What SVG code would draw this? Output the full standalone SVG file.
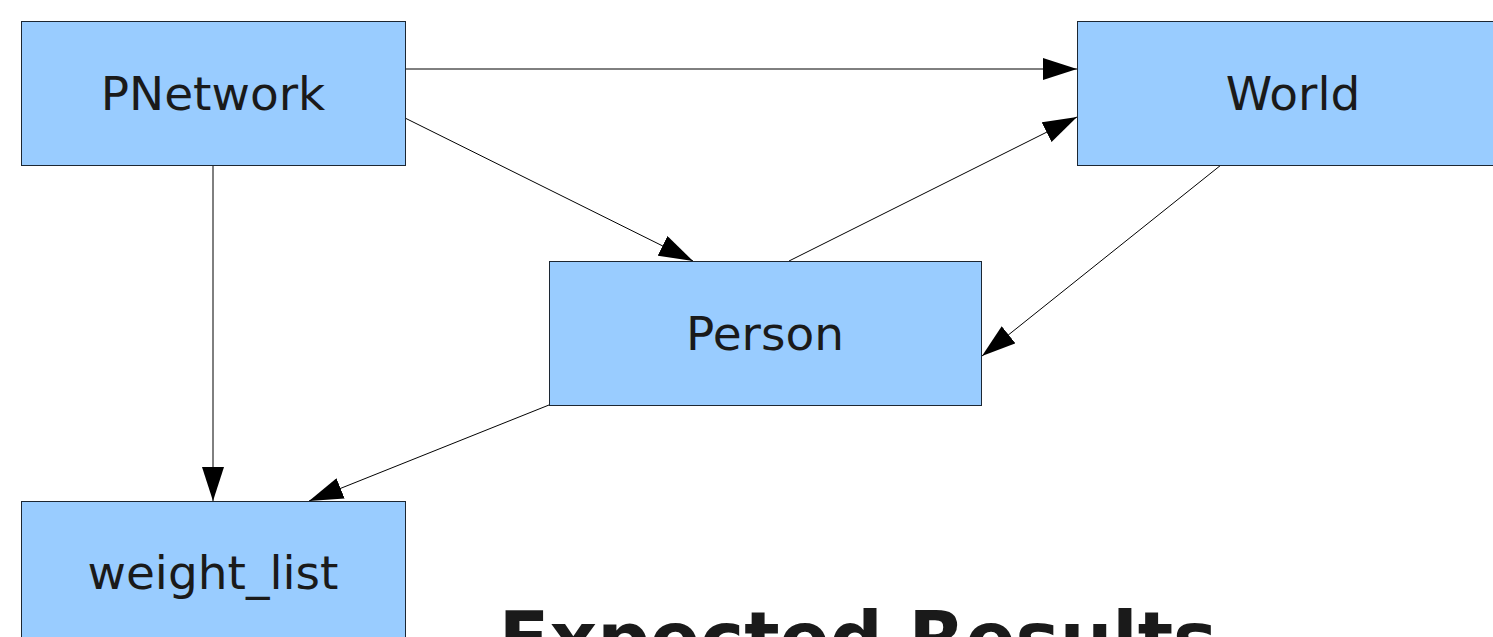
<svg xmlns="http://www.w3.org/2000/svg" width="1493" height="637" viewBox="0 0 1493 637">
<style>
.box{fill:#99ccff;stroke:#1c2733;stroke-width:1}
.lbl{font-family:"DejaVu Sans",sans-serif;font-size:47px;fill:#1a1a1a;text-anchor:middle}
.edge{stroke:#000;stroke-width:1;fill:none}
.title{font-family:"DejaVu Sans",sans-serif;font-weight:bold;font-size:74px;fill:#1a1a1a;text-anchor:middle}
</style>
<defs>
<marker id="arr" markerUnits="userSpaceOnUse" markerWidth="34" markerHeight="22" refX="34" refY="11" orient="auto" viewBox="0 0 34 22">
<path d="M0,0 L34,11 L0,22 z" fill="#000"/>
</marker>
</defs>
<rect width="1493" height="637" fill="#fff"/>
<g id="connectors">
<line class="edge" x1="405" y1="69" x2="1077" y2="69" marker-end="url(#arr)"/>
<line class="edge" x1="405" y1="118" x2="693" y2="261" marker-end="url(#arr)"/>
<line class="edge" x1="789" y1="261" x2="1077" y2="117" marker-end="url(#arr)"/>
<line class="edge" x1="1221" y1="165" x2="982" y2="356" marker-end="url(#arr)"/>
<line class="edge" x1="213" y1="165" x2="213" y2="501" marker-end="url(#arr)"/>
<line class="edge" x1="549" y1="405" x2="309" y2="501" marker-end="url(#arr)"/>
</g>
<g id="node-pnetwork">
<rect class="box" x="21.5" y="21.5" width="384" height="144"/>
<text class="lbl" x="213" y="109.5">PNetwork</text>
</g>
<g id="node-world">
<rect class="box" x="1077.5" y="21.5" width="432" height="144"/>
<text class="lbl" x="1293" y="109.5">World</text>
</g>
<g id="node-person">
<rect class="box" x="549.5" y="261.5" width="432" height="144"/>
<text class="lbl" x="765" y="349.5">Person</text>
</g>
<g id="node-weight_list">
<rect class="box" x="21.5" y="501.5" width="384" height="144"/>
<text class="lbl" x="213" y="589">weight_list</text>
</g>
<text class="title" x="858" y="665">Expected Results</text>
</svg>
